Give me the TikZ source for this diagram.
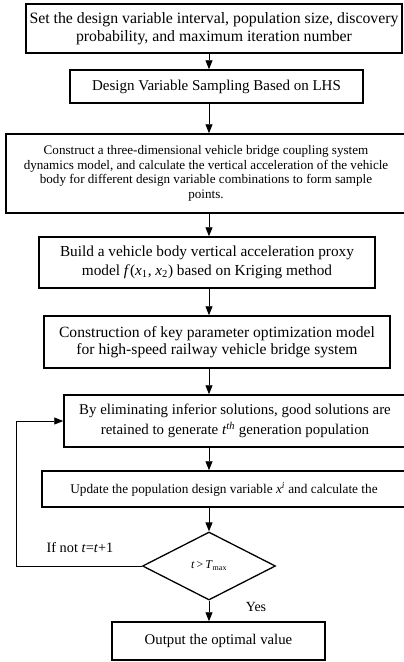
\documentclass[tikz,border=0pt]{standalone}
\usepackage{fontspec}
\setmainfont{Liberation Serif}
\usetikzlibrary{shapes.geometric,arrows.meta}
\begin{document}
\begin{tikzpicture}[x=1pt,y=-1pt,
  box/.style={draw, line width=1.5pt, inner sep=0pt, align=center},
  arr/.style={-{Triangle[length=9pt,width=7pt]}, line width=0.9pt},
  lbl/.style={inner sep=0pt}]
\clip (0,0) rectangle (404,662);
\node[box, minimum width=376pt, minimum height=49pt, font=\fontsize{15.8}{17.5}\selectfont] (b1) at (214,28.5)
  {Set the design variable interval, population size, discovery\\probability, and maximum iteration number};
\node[box, minimum width=293pt, minimum height=33pt, font=\fontsize{15}{17}\selectfont] (b2) at (216.5,86.5)
  {Design Variable Sampling Based on LHS};
\node[box, minimum width=400pt, minimum height=79pt, font=\fontsize{13.1}{14.5}\selectfont] (b3) at (206,173.5)
  {Construct a three-dimensional vehicle bridge coupling system\\dynamics model, and calculate the vertical acceleration of the vehicle\\body for different design variable combinations to form sample\\points.};
\node[box, minimum width=336pt, minimum height=51pt, font=\fontsize{15.3}{19}\selectfont] (b4) at (207,262.5)
  {Build a vehicle body vertical acceleration proxy\\model \textit{f}(\textit{x}\textsubscript{1}, \textit{x}\textsubscript{2}) based on Kriging method};
\node[box, minimum width=346pt, minimum height=52pt, font=\fontsize{15.6}{17}\selectfont] (b5) at (217,342)
  {Construction of key parameter optimization model\\for high-speed railway vehicle bridge system};
\node[box, minimum width=342pt, minimum height=52pt, font=\fontsize{14.9}{20}\selectfont] (b6) at (235,421)
  {By eliminating inferior solutions, good solutions are\\retained to generate \textit{t}\textsuperscript{\textit{th}} generation population};
\node[box, minimum width=364pt, minimum height=36pt, font=\fontsize{13.3}{15}\selectfont] (b7) at (224,489)
  {Update the population design variable \textit{x}\textsuperscript{\textit{i}} and calculate the};
\node[diamond, draw, line width=1.3pt, inner sep=0pt, minimum width=133pt, minimum height=68pt, font=\fontsize{12}{13}\selectfont] (dia) at (209,566)
  {\textit{t}\,>\,\textit{T}\textsubscript{max}};
\node[box, minimum width=213pt, minimum height=38pt, font=\fontsize{14.8}{17}\selectfont] (b8) at (218.5,641)
  {Output the optimal value};
\node[lbl, font=\fontsize{14.3}{17}\selectfont] (ifnot) at (80,548) {If not \textit{t}=\textit{t}+1};
\node[lbl, font=\fontsize{14}{17}\selectfont] (yes) at (256,607) {Yes};
\coordinate (lp) at (16,566);
\draw[arr] (b1.south -| dia.north) -- (b2.north -| dia.north);
\draw[arr] (b2.south -| dia.north) -- (b3.north -| dia.north);
\draw[arr] (b3.south -| dia.north) -- (b4.north -| dia.north);
\draw[arr] (b4.south -| dia.north) -- (b5.north -| dia.north);
\draw[arr] (b5.south -| dia.north) -- (b6.north -| dia.north);
\draw[arr] (b6.south -| dia.north) -- (b7.north -| dia.north);
\draw[arr] (b7.south -| dia.north) -- (dia.north);
\draw[arr] (dia.south) -- (b8.north -| dia.south);
\draw[arr] (dia.west) -- (lp) |- (b6.west);
\end{tikzpicture}
\end{document}
